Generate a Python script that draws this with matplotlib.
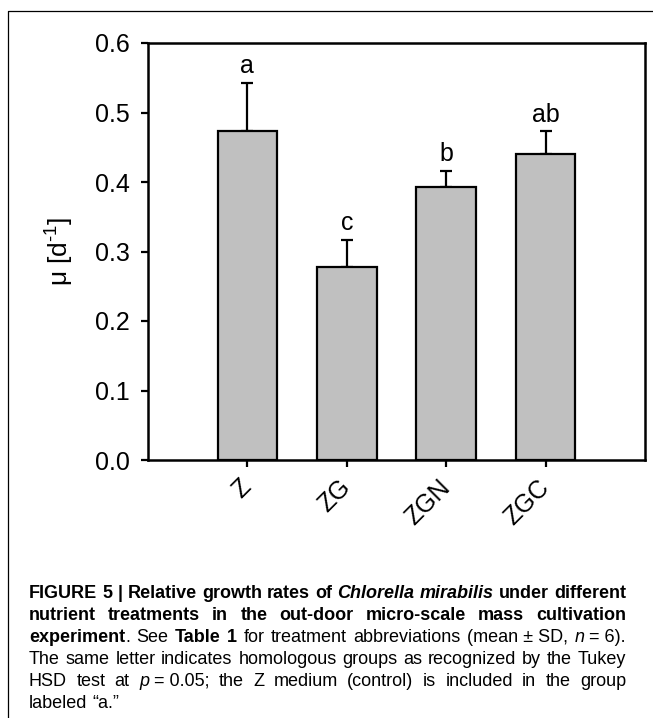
import numpy as np
import matplotlib as mpl
import matplotlib.pyplot as plt
from matplotlib.lines import Line2D

mpl.rcParams['font.family'] = ['Liberation Sans', 'DejaVu Sans']
mpl.rcParams['mathtext.fontset'] = 'custom'
mpl.rcParams['mathtext.rm'] = 'Liberation Sans'
mpl.rcParams['mathtext.it'] = 'Liberation Sans:italic'

# growth rates (mean, SD) per treatment
treatments = ['Z', 'ZG', 'ZGN', 'ZGC']
mu_mean = [0.474, 0.277, 0.393, 0.440]
mu_sd = [0.069, 0.040, 0.023, 0.033]
groups = ['a', 'c', 'b', 'ab']
yticks = [0.0, 0.1, 0.2, 0.3, 0.4, 0.5, 0.6]

W, H = 653, 718
fig = plt.figure(figsize=(W / 100, H / 100), dpi=100)

# panel frame (only top and left edges show)
fig.add_artist(Line2D([8 / W, 8 / W, 1.0], [0.0, 1 - 11 / H, 1 - 11 / H],
                      transform=fig.transFigure, color='black', lw=0.9))

ax = fig.add_axes([148 / W, 1 - 460 / H, (645 - 148) / W, (460 - 43) / H])
x = np.arange(len(treatments))
ax.bar(x, mu_mean, width=0.6, color='#c0c0c0', edgecolor='black', linewidth=1.6,
       zorder=2)
ax.errorbar(x, mu_mean, yerr=[np.zeros(len(x)), mu_sd], fmt='none', ecolor='black',
            elinewidth=1.6, capsize=4.5, capthick=1.6, zorder=1)

for xi, m, s, g in zip(x, mu_mean, mu_sd, groups):
    ax.annotate(g, (xi, m + s), xytext=(0, 7), textcoords='offset points',
                ha='center', va='baseline', fontsize=18)

ax.set_xlim(-1, 4)
ax.set_ylim(0, 0.6)
ax.set_yticks(yticks)
ax.set_yticklabels(['%.1f' % v for v in yticks])
ax.set_xticks(x)
ax.set_xticklabels(treatments, rotation=45, ha='right', va='center',
                   rotation_mode='anchor')
for sp in ax.spines.values():
    sp.set_linewidth(1.8)
ax.tick_params(axis='both', direction='out', length=5, width=1.6, labelsize=18)
ax.tick_params(axis='y', pad=8)
ax.tick_params(axis='x', pad=12)
ax.set_ylabel(r'μ [d$^{\text{-1}}$]', fontsize=19, labelpad=14)

# caption, justified word by word
nb = '\u00a0'
caption = [
    [('FIGURE 5 | Relative growth rates of ', 'b'), ('Chlorella mirabilis', 'bi'),
     (' under different', 'b')],
    [('nutrient treatments in the out-door micro-scale mass cultivation', 'b')],
    [('experiment', 'b'), ('. See ', 'n'), ('Table 1', 'b'),
     (' for treatment abbreviations (mean' + nb + '±' + nb + 'SD, ', 'n'), ('n', 'i'),
     (nb + '=' + nb + '6).', 'n')],
    [('The same letter indicates homologous groups as recognized by the Tukey', 'n')],
    [('HSD test at ', 'n'), ('p', 'i'),
     (nb + '=' + nb + '0.05; the Z medium (control) is included in the group', 'n')],
    [('labeled “a.”', 'n')],
]
styles = {'b': dict(weight='bold'), 'bi': dict(weight='bold', style='italic'),
          'n': dict(), 'i': dict(style='italic')}
cap_size = 13
x_left, x_right = 29, 626
baseline0, line_gap = 598, 22


def split_words(segs):
    words = [[]]
    for text, st in segs:
        for k, p in enumerate(text.split(' ')):
            if k > 0:
                words.append([])
            if p:
                words[-1].append((p, st))
    return [w for w in words if w]


renderer = fig.canvas.get_renderer()
for i, segs in enumerate(caption):
    yb = 1 - (baseline0 + i * line_gap) / H
    words = split_words(segs)
    placed = []
    for w in words:
        runs = []
        for text, st in w:
            t = fig.text(0, yb, text, fontsize=cap_size, va='baseline', ha='left',
                         **styles[st])
            runs.append((t, t.get_window_extent(renderer).width))
        placed.append(runs)
    widths = [sum(r[1] for r in runs) for runs in placed]
    space = 0.27 * cap_size * 100 / 72
    if i < len(caption) - 1 and len(words) > 1:
        space = max((x_right - x_left - sum(widths)) / (len(words) - 1), 2.0)
    xp = x_left
    for runs, wsum in zip(placed, widths):
        xr = xp
        for t, wd in runs:
            t.set_x(xr / W)
            xr += wd
        xp += wsum + space

fig.savefig('out.png', dpi=100)
